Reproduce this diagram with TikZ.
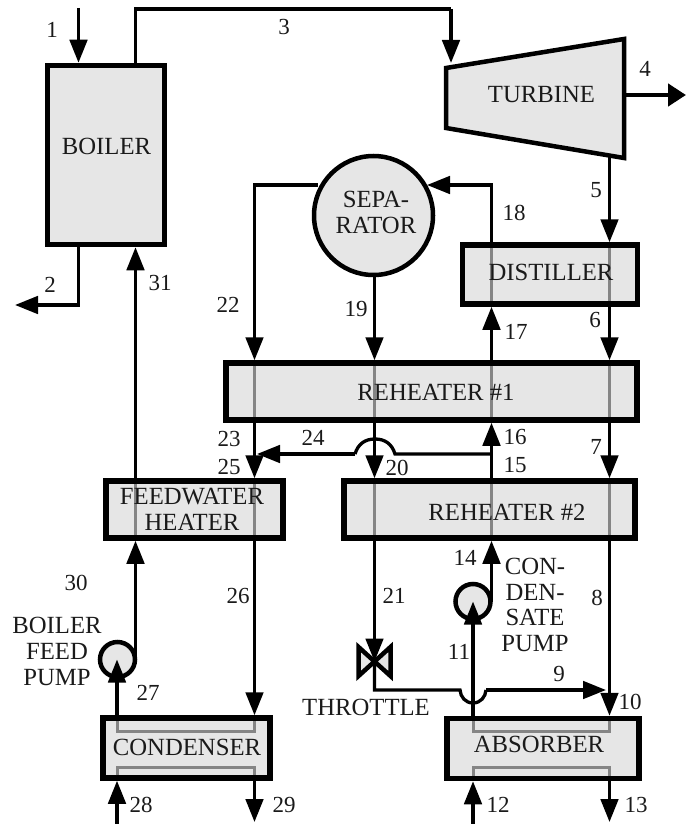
\documentclass[tikz,border=0pt]{standalone}
\usepackage{fontspec}
\setmainfont{Liberation Serif}
\usetikzlibrary{arrows.meta}
\definecolor{boxfill}{HTML}{E6E6E6}
\definecolor{passgray}{HTML}{858585}
\definecolor{ink}{HTML}{1A1A1A}
\tikzset{
  unit/.style={draw=black,fill=boxfill,line width=5.5pt,rectangle,inner sep=0pt},
  pumpc/.style={draw=black,fill=boxfill,line width=4.5pt,circle,inner sep=0pt,minimum size=35pt},
  pipe/.style={draw=black,line width=3.3pt,-{Triangle[length=23pt,width=17.5pt]}},
  plainpipe/.style={draw=black,line width=3.3pt},
  pass/.style={draw=passgray,line width=3pt,shorten >=5.5pt,shorten <=5.5pt},
  txt/.style={inner sep=0pt,text=ink,font=\fontsize{24.7}{25.7}\selectfont,align=center},
  num/.style={inner sep=0pt,text=ink,font=\fontsize{23}{25}\selectfont}
}
\begin{document}
\begin{tikzpicture}[x=1pt,y=-1pt]
\useasboundingbox (0,0) rectangle (686,824);
% reference columns and rows
\coordinate (cT) at (78.5,0);
\coordinate (cA) at (117,0);
\coordinate (cB) at (135.5,0);
\coordinate (cC) at (254.5,0);
\coordinate (cD) at (374.5,0);
\coordinate (cH) at (451,0);
\coordinate (cE) at (473,0);
\coordinate (cF) at (491.5,0);
\coordinate (cG) at (609.5,0);
\coordinate (top) at (0,8);
\coordinate (bot) at (0,824);
\coordinate (r3) at (0,9);
\coordinate (r18) at (0,185);
\coordinate (r2) at (0,305);
\coordinate (r24) at (0,454);
\coordinate (r9) at (0,690);
\coordinate (rIn) at (0,731.5);
\coordinate (rOut) at (0,767.5);
% units
\node[unit,minimum width=117pt,minimum height=179pt] (boiler) at (105.75,155) {};
\node[unit,minimum width=175pt,minimum height=59pt] (distiller) at (550,274.5) {};
\node[unit,minimum width=411pt,minimum height=57pt] (rh1) at (431.5,391.5) {};
\node[unit,minimum width=177pt,minimum height=57pt] (fwh) at (194.5,509.5) {};
\node[unit,minimum width=291pt,minimum height=57pt] (rh2) at (489.5,509.5) {};
\node[unit,minimum width=167pt,minimum height=60pt] (cond) at (186.5,748) {};
\node[unit,minimum width=192pt,minimum height=60pt] (abs) at (543,748.5) {};
\node[draw=black,fill=boxfill,line width=4.5pt,circle,inner sep=0pt,minimum size=119pt] (sep) at (373.5,215.5) {};
\node[pumpc] (fpump) at (117.5,659.5) {};
\node[pumpc] (cpump) at (473,601.5) {};
% turbine
\coordinate (t1) at (446,68);
\coordinate (t2) at (624,39);
\coordinate (t3) at (624,158);
\coordinate (t4) at (446,128);
\coordinate (tout) at (624,95);
\coordinate (tend) at (686,95);
\coordinate (t5) at (609.5,156);
\coordinate (tin) at (451,63);
\draw[fill=boxfill,line width=4.5pt,line join=miter] (t1) -- (t2) -- (t3) -- (t4) -- cycle;
% throttle
\coordinate (vc) at (374.5,661.5);
\coordinate (va) at (358.5,647);
\coordinate (vb) at (358.5,676);
\coordinate (vd) at (390.5,647);
\coordinate (ve) at (390.5,676);
\draw[fill=boxfill,line width=4.5pt,line join=miter] (vc) -- (va) -- (vb) -- cycle;
\draw[fill=boxfill,line width=4.5pt,line join=miter] (vc) -- (vd) -- (ve) -- cycle;
% passes through units
\draw[pass] (distiller.north -| cF) -- (distiller.south -| cF);
\draw[pass] (distiller.north -| cG) -- (distiller.south -| cG);
\draw[pass] (rh1.north -| cC) -- (rh1.south -| cC);
\draw[pass] (rh1.north -| cD) -- (rh1.south -| cD);
\draw[pass] (rh1.north -| cF) -- (rh1.south -| cF);
\draw[pass] (rh1.north -| cG) -- (rh1.south -| cG);
\draw[pass] (fwh.north -| cB) -- (fwh.south -| cB);
\draw[pass] (fwh.north -| cC) -- (fwh.south -| cC);
\draw[pass] (rh2.north -| cD) -- (rh2.south -| cD);
\draw[pass] (rh2.north -| cF) -- (rh2.south -| cF);
\draw[pass] (rh2.north -| cG) -- (rh2.south -| cG);
\draw[pass] (cond.north -| cA) |- (rIn -| cC) -- (cond.north -| cC);
\draw[pass] (cond.south -| cA) |- (rOut -| cC) -- (cond.south -| cC);
\draw[pass] (abs.north -| cE) |- (rIn -| cG) -- (abs.north -| cG);
\draw[pass] (abs.south -| cE) |- (rOut -| cG) -- (abs.south -| cG);
% text in units
\node[txt] (tboiler) at (106.5,146) {BOILER};
\node[txt] (tturbine) at (541.5,95) {TURBINE};
\node[txt] (tsep) at (376,212.5) {SEPA-\\RATOR};
\node[txt] (tdist) at (551,272) {DISTILLER};
\node[txt] (trh1) at (436,392) {REHEATER \#1};
\node[txt] (tfwh) at (192,509.5) {FEEDWATER\\HEATER};
\node[txt] (trh2) at (507,512) {REHEATER \#2};
\node[txt] (tcond) at (187,747) {CONDENSER};
\node[txt] (tabs) at (539,744) {ABSORBER};
\node[txt] (tbfp) at (57,651.5) {BOILER\\FEED\\PUMP};
\node[txt] (tcsp) at (535,605) {CON-\\DEN-\\SATE\\PUMP};
\node[txt] (tthr) at (366,707) {THROTTLE};
% connectors
\draw[pipe] (top -| cT) -- (boiler.north -| cT);
\draw[plainpipe] (boiler.north -| cB) |- (r3 -| cH);
\draw[pipe] (r3 -| cH) -- (tin);
\draw[draw=black,line width=4.7pt,-{Triangle[length=18pt,width=22pt]}] (tout) -- (tend);
\coordinate (end2) at (15,305);
\draw[pipe] (boiler.south -| cT) |- (end2);
\draw[pipe] (t5) -- (distiller.north -| cG);
\draw[pipe] (distiller.south -| cG) -- (rh1.north -| cG);
\draw[pipe] (rh1.south -| cG) -- (rh2.north -| cG);
\draw[pipe] (rh2.south -| cG) -- (abs.north -| cG);
\draw[plainpipe] (sep.west |- r18) ++(6,0) -| (cC |- r2);
\draw[pipe] (cC |- r2) -- (rh1.north -| cC);
\draw[pipe] (rh1.south -| cC) -- (fwh.north -| cC);
\draw[pipe] (fwh.south -| cC) -- (cond.north -| cC);
\draw[pipe] (sep.south -| cD) -- (rh1.north -| cD);
\draw[pipe] (rh1.south -| cD) -- (rh2.north -| cD);
\draw[pipe] (rh2.south -| cD) -- (vc);
\coordinate (j1r) at (395,454);
\coordinate (j1t) at (375,439);
\coordinate (j1l) at (355,454);
\coordinate (end24) at (257,454);
\draw[plainpipe] (cF |- r24) -- (j1r) .. controls +(-3,-10) and +(10,0) .. (j1t) .. controls +(-10,0) and +(3,-10) .. (j1l);
\draw[pipe] (j1l) -- (end24);
\coordinate (j2l) at (460,690);
\coordinate (j2b) at (473,703);
\coordinate (j2r) at (486,690);
\coordinate (end9) at (606,690);
\draw[plainpipe] (vc) |- (j2l) .. controls +(0.5,7) and +(-7.5,0) .. (j2b) .. controls +(7.5,0) and +(-0.5,7) .. (j2r);
\draw[pipe] (j2r) -- (end9);
\draw[pipe] (abs.north -| cE) -- (cE |- cpump.center);
\draw[pipe] (cond.north -| cA) -- (cA |- fpump.center);
\draw[pipe] (cF |- cpump.center) -- (rh2.south -| cF);
\draw[pipe] (rh2.north -| cF) -- (rh1.south -| cF);
\draw[pipe] (rh1.north -| cF) -- (distiller.south -| cF);
\coordinate (end18) at (427,185);
\draw[pipe] (distiller.north -| cF) |- (end18);
\draw[pipe] (cB |- fpump.center) -- (fwh.south -| cB);
\draw[pipe] (fwh.north -| cB) -- (boiler.south -| cB);
\coordinate (end29) at (0,822);
\draw[pipe] (bot -| cA) -- (cond.south -| cA);
\draw[pipe] (cond.south -| cC) -- (end29 -| cC);
\draw[pipe] (bot -| cE) -- (abs.south -| cE);
\draw[pipe] (abs.south -| cG) -- (end29 -| cG);
% stream numbers
\node[num] (n1) at (52,30) {1};
\node[num] (n2) at (50,285) {2};
\node[num] (n3) at (284,27) {3};
\node[num] (n4) at (645,69) {4};
\node[num] (n5) at (596,190) {5};
\node[num] (n6) at (595,320) {6};
\node[num] (n7) at (596,447) {7};
\node[num] (n8) at (597,598) {8};
\node[num] (n9) at (559,674) {9};
\node[num] (n10) at (630,702) {10};
\node[num] (n11) at (459,652) {11};
\node[num] (n12) at (498,805) {12};
\node[num] (n13) at (636,805) {13};
\node[num] (n14) at (465,558) {14};
\node[num] (n15) at (515,465) {15};
\node[num] (n16) at (515,437) {16};
\node[num] (n17) at (516,332) {17};
\node[num] (n18) at (514,213) {18};
\node[num] (n19) at (356,309) {19};
\node[num] (n20) at (397,468) {20};
\node[num] (n21) at (394,596) {21};
\node[num] (n22) at (228,305) {22};
\node[num] (n23) at (229,439) {23};
\node[num] (n24) at (313,438) {24};
\node[num] (n25) at (229,467) {25};
\node[num] (n26) at (238,596) {26};
\node[num] (n27) at (148,693) {27};
\node[num] (n28) at (141,805) {28};
\node[num] (n29) at (284,805) {29};
\node[num] (n30) at (76,583) {30};
\node[num] (n31) at (160,283) {31};
\end{tikzpicture}
\end{document}
